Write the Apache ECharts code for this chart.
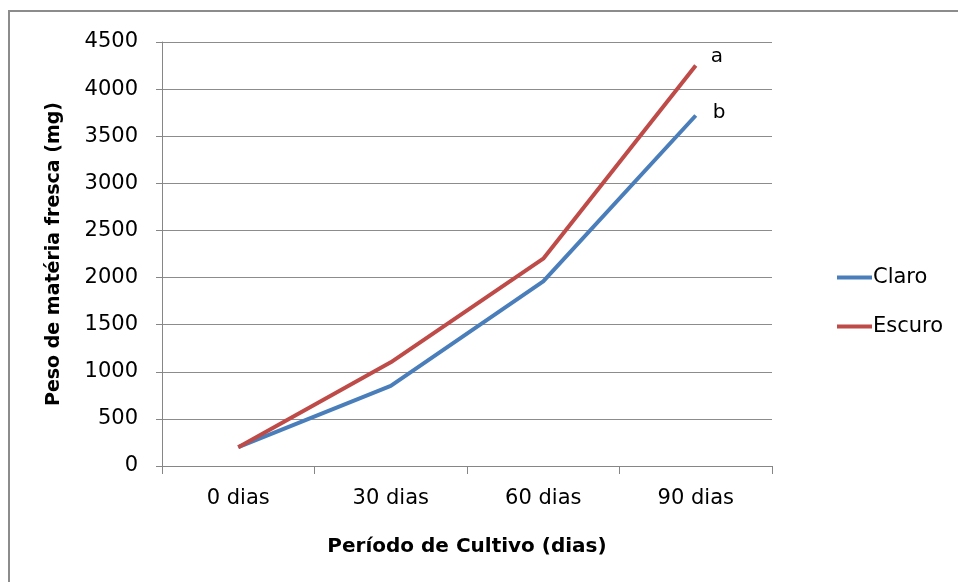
<!DOCTYPE html>
<html><head><meta charset="utf-8">
<script src="https://cdn.jsdelivr.net/npm/echarts@6/dist/echarts.min.js"></script>
<style>html,body{margin:0;padding:0;background:#fff}#c{width:958px;height:582px;position:relative}
#frame{position:absolute;left:8px;top:10px;width:960px;height:580px;border:2px solid #8c8c8c;box-sizing:border-box;pointer-events:none}</style>
</head><body><div id="c"></div><div id="frame"></div>
<script>
const categories = ['0 dias', '30 dias', '60 dias', '90 dias'];
const claro = [200, 850, 1960, 3720];
const escuro = [200, 1100, 2200, 4250];
const endLabels = { Claro: 'b', Escuro: 'a' };
const yTicks = { min: 0, max: 4500, interval: 500 };

const font = '"DejaVu Sans", sans-serif';
const chart = echarts.init(document.getElementById('c'), null, { renderer: 'canvas' });
function mk(name, data, color, offset) {
  return {
    name: name, type: 'line', data: data,
    symbol: 'none', lineStyle: { width: 4, color: color }, itemStyle: { color: color },
    endLabel: { show: true, formatter: endLabels[name], offset: offset, distance: 8,
      fontSize: 20, color: '#000', fontFamily: font },
    animation: false
  };
}
chart.setOption({
  backgroundColor: '#fff',
  grid: { left: 162, right: 186, top: 42, bottom: 116 },
  legend: {
    orient: 'vertical', left: 832, top: 262, itemWidth: 35, itemHeight: 4, itemGap: 28,
    icon: 'rect',
    textStyle: { fontSize: 21, color: '#000', fontFamily: font, padding: [0, 0, 0, -4] },
    data: ['Claro', 'Escuro']
  },
  xAxis: {
    type: 'category', data: categories, boundaryGap: true,
    name: 'Período de Cultivo (dias)', nameLocation: 'middle', nameGap: 71,
    nameTextStyle: { fontSize: 20, fontWeight: 'bold', color: '#000', fontFamily: font },
    axisLine: { lineStyle: { color: '#868686', width: 1 } },
    axisTick: { show: true, length: 8, lineStyle: { color: '#868686' } },
    axisLabel: { fontSize: 21, color: '#000', fontFamily: font, margin: 22 }
  },
  yAxis: {
    type: 'value', min: yTicks.min, max: yTicks.max, interval: yTicks.interval,
    name: 'Peso de matéria fresca (mg)', nameLocation: 'middle', nameGap: 98, nameRotate: 90,
    nameTextStyle: { fontSize: 19, fontWeight: 'bold', color: '#000', fontFamily: font },
    axisLine: { show: true, lineStyle: { color: '#868686', width: 1 } },
    axisTick: { show: true, length: 6, inside: false, lineStyle: { color: '#868686' } },
    axisLabel: { fontSize: 21, color: '#000', fontFamily: font, margin: 24, formatter: v => String(v) },
    splitLine: { lineStyle: { color: '#8c8c8c', width: 1 } }
  },
  series: [mk('Claro', claro, '#4A7EBB', [9, -3]), mk('Escuro', escuro, '#BE4B48', [7, -9])]
});
</script></body></html>
